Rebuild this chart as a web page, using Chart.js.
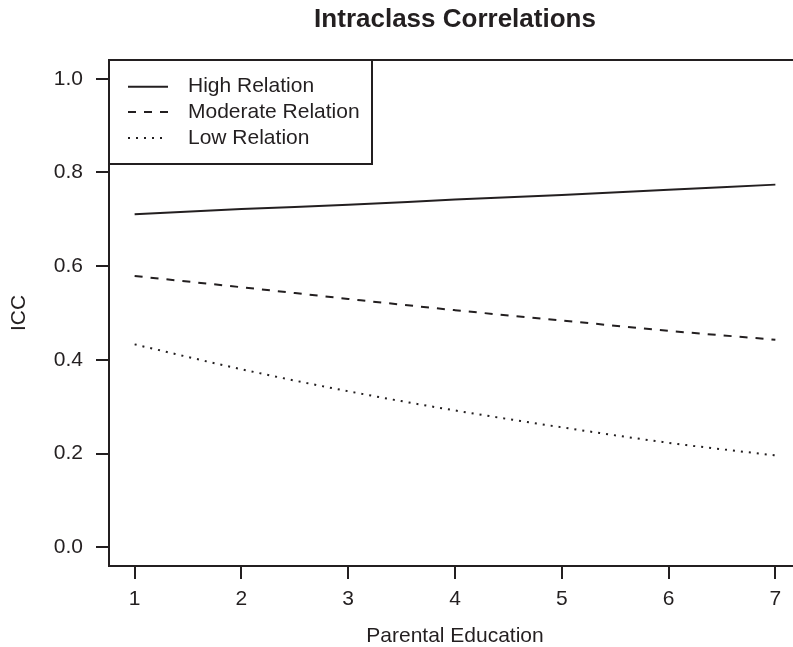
<!DOCTYPE html>
<html>
<head>
<meta charset="utf-8">
<script src="https://cdn.jsdelivr.net/npm/chart.js@4/dist/chart.umd.min.js"></script>
<style>
  html, body { margin: 0; padding: 0; background: #fff; overflow: hidden; }
  #wrap { width: 793px; height: 647px; overflow: hidden; }
  #box { width: 820px; height: 647px; }
</style>
</head>
<body>
<div id="wrap"><div id="box"><canvas id="icc" width="820" height="647"></canvas></div></div>
<script>
// parental education levels and fitted ICC per relation strength
const eduLevels = [1, 2, 3, 4, 5, 6, 7];
const highRel = [0.711, 0.722, 0.731, 0.742, 0.752, 0.763, 0.774];
const modRel = [0.579, 0.555, 0.530, 0.506, 0.484, 0.462, 0.443];
const lowRel = [0.433, 0.380, 0.333, 0.292, 0.256, 0.223, 0.196];
const yTicks = [0, 0.2, 0.4, 0.6, 0.8, 1.0];
const xTicks = [1, 2, 3, 4, 5, 6, 7];

const ink = "#231f20";
const FONT = "'Liberation Sans', Arial, Helvetica, sans-serif";
const TXT = 21;

const pts = (ys) => eduLevels.map((x, i) => ({ x: x, y: ys[i] }));

function series(label, ys, dash) {
  return {
    label: label,
    data: pts(ys),
    borderColor: ink,
    borderWidth: 2,
    borderDash: dash,
    pointRadius: 0,
    fill: false,
    cubicInterpolationMode: "monotone",
  };
}

// box round the plot + legend in the top-left corner
const frameAndLegend = {
  id: "frameAndLegend",
  afterDraw(chart) {
    const { ctx, chartArea: a } = chart;
    ctx.save();
    ctx.strokeStyle = ink;
    ctx.lineWidth = 2;
    ctx.setLineDash([]);
    ctx.strokeRect(a.left, a.top, a.right - a.left, a.bottom - a.top);

    const lx = a.left, ly = a.top;
    ctx.fillStyle = "#fff";
    ctx.fillRect(lx, ly, 263, 104);
    ctx.strokeRect(lx, ly, 263, 104);

    const rows = [26.7, 52, 78];
    ctx.font = TXT + "px " + FONT;
    ctx.textBaseline = "middle";
    ctx.textAlign = "left";
    chart.data.datasets.forEach((ds, i) => {
      const y = ly + rows[i];
      ctx.beginPath();
      ctx.setLineDash(ds.borderDash || []);
      ctx.lineWidth = 2;
      ctx.moveTo(lx + 19, y);
      ctx.lineTo(lx + 59, y);
      ctx.stroke();
      ctx.setLineDash([]);
      ctx.fillStyle = ink;
      ctx.fillText(ds.label, lx + 79, y);
    });
    ctx.restore();
  },
};

new Chart(document.getElementById("icc"), {
  type: "line",
  data: {
    datasets: [
      series("High Relation", highRel, []),
      series("Moderate Relation", modRel, [8, 8]),
      series("Low Relation", lowRel, [2, 6]),
    ],
  },
  options: {
    responsive: false,
    animation: false,
    devicePixelRatio: 1,
    layout: { padding: { left: 0, right: 19, top: 0, bottom: 0 } },
    plugins: {
      legend: { display: false },
      tooltip: { enabled: false },
      title: {
        display: true,
        fullSize: false,
        text: "Intraclass Correlations",
        color: ink,
        font: { family: FONT, size: 26, weight: "bold", lineHeight: 1.2 },
        padding: { top: 4.4, bottom: 24.4 },
      },
    },
    scales: {
      x: {
        type: "linear",
        min: 0.76,
        max: 7.24,
        afterBuildTicks: (s) => { s.ticks = xTicks.map((v) => ({ value: v })); },
        afterFit: (s) => { s.height = 81; },
        border: { display: false },
        grid: { drawOnChartArea: false, drawTicks: true, tickLength: 13, lineWidth: 2, color: ink },
        ticks: {
          color: ink,
          padding: 8,
          maxRotation: 0,
          font: { family: FONT, size: TXT },
          callback: (v) => String(v),
        },
        title: {
          display: true,
          text: "Parental Education",
          color: ink,
          font: { family: FONT, size: TXT, lineHeight: 1 },
          padding: { top: 0, bottom: 0.5 },
        },
      },
      y: {
        type: "linear",
        min: -0.04,
        max: 1.04,
        afterBuildTicks: (s) => { s.ticks = yTicks.map((v) => ({ value: v })); },
        afterFit: (s) => { s.width = 109; },
        border: { display: false },
        grid: { drawOnChartArea: false, drawTicks: true, tickLength: 13, lineWidth: 2, color: ink },
        ticks: {
          color: ink,
          padding: 13,
          font: { family: FONT, size: TXT },
          callback: (v) => Number(v).toFixed(1),
        },
        title: {
          display: true,
          text: "ICC",
          color: ink,
          font: { family: FONT, size: TXT, lineHeight: 1 },
          padding: { top: 9, bottom: 0 },
        },
      },
    },
  },
  plugins: [frameAndLegend],
});
</script>
</body>
</html>
